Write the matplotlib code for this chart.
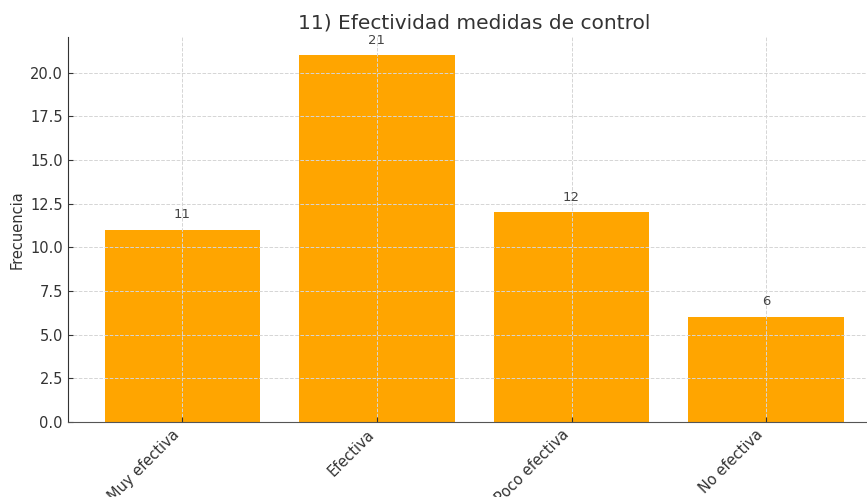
import matplotlib
matplotlib.use("Agg")
import matplotlib.pyplot as plt

categories = ["Muy efectiva", "Efectiva", "Poco efectiva", "No efectiva"]
values = [11, 21, 12, 6]

fig = plt.figure(figsize=(8.67, 4.97), dpi=100)
ax = fig.add_axes([0.078, 0.151, 0.938, 0.7746])
bars = ax.bar(categories, values, color="#FFA500", width=0.8)
ax.grid(True, linestyle="--", color="#d5d5d5", linewidth=0.7)
for sp in ["top", "right"]:
    ax.spines[sp].set_visible(False)
ax.spines["left"].set_color("#333333")
ax.spines["bottom"].set_color("#555555")
ax.tick_params(colors="#333333", labelsize=10.5, direction="in", length=3.5)
for b, v in zip(bars, values):
    ax.text(b.get_x() + b.get_width() / 2, v + 0.5, str(v), ha="center", va="bottom",
            fontsize=9.5, color="#444444")
ax.set_xticks(range(len(categories)))
ax.set_xticklabels(categories, rotation=45, ha="right", color="#333333")
ax.set_ylabel("Frecuencia", fontsize=10.5, color="#333333")
ax.set_title("11) Efectividad medidas de control", fontsize=14.5, color="#333333")
fig.savefig("out.png", dpi=100)
